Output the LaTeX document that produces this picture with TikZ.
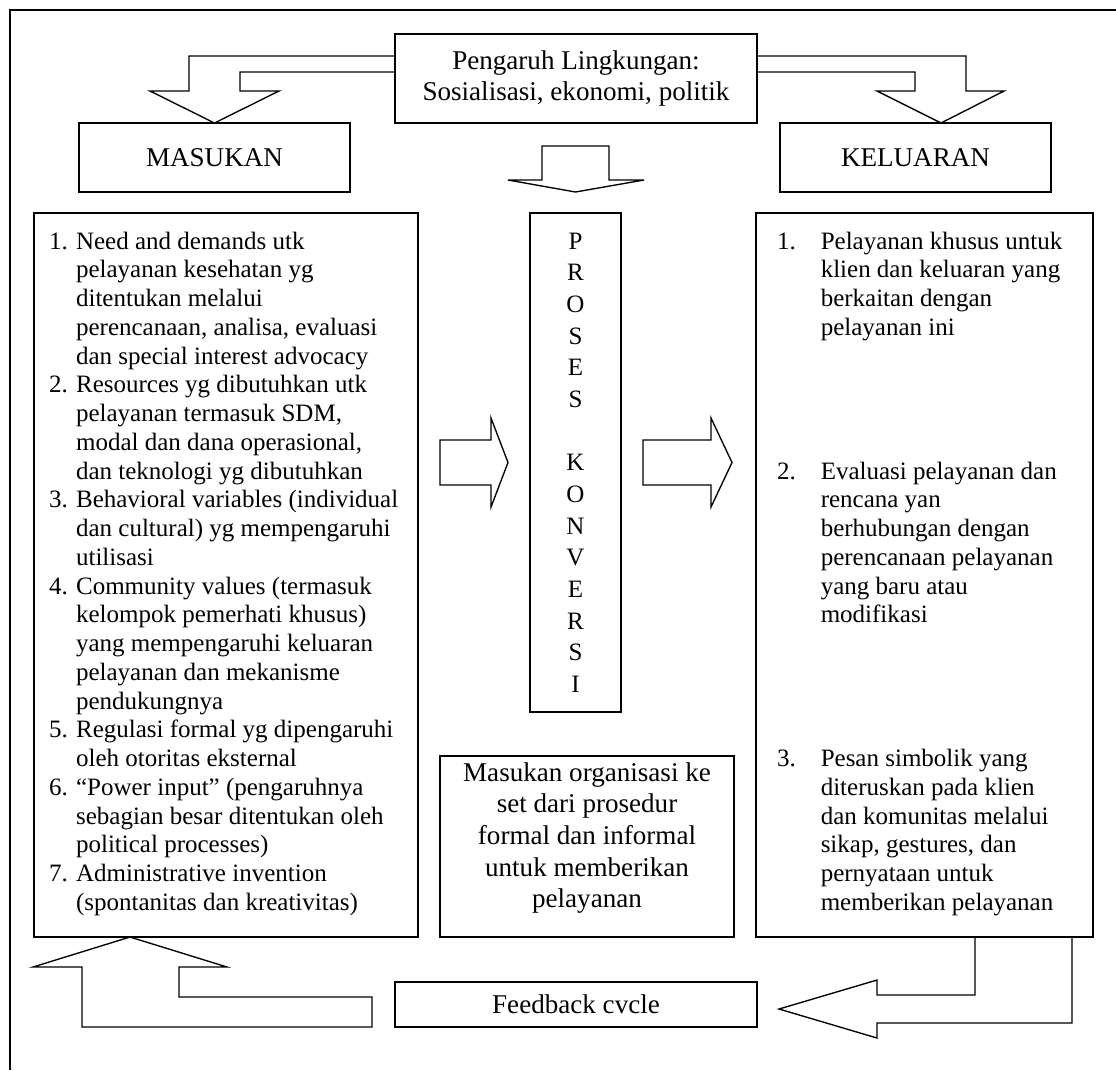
\documentclass[tikz,border=0pt]{standalone}
\usepackage{fontspec}
\setmainfont{Liberation Serif}

\newcommand{\lnum}[1]{\makebox[13pt][l]{#1}}
\newcommand{\lind}{\makebox[13pt]{}}
\newcommand{\rnum}[1]{\makebox[21pt][l]{#1}}
\newcommand{\rind}{\makebox[21pt]{}}

\begin{document}
\begin{tikzpicture}[
            x=0.48pt, y=-0.48pt,
            box/.style={rectangle, draw, line width=0.65pt, inner sep=0pt, outer sep=0pt, align=center, font=\fontsize{13}{15.2}\selectfont},
            list text/.style={inner sep=0pt, outer sep=0pt, align=left, font=\fontsize{12}{13.8}\selectfont},
            block arrow/.style={draw, line width=0.65pt, line join=miter},
            frame line/.style={draw, line width=1pt}
    ]
        \useasboundingbox (0,0) rectangle (1116,1070);

        % Frame
        \draw[frame line] (10,1070) -- (10,10) -- (1116,10);

        % Environment
        \node[box, minimum width=173.76pt, minimum height=42.72pt] (env) at (576,78.5) {Pengaruh Lingkungan:\\Sosialisasi, ekonomi, politik};

        % Input / Output headers
        \node[box, minimum width=130.08pt, minimum height=33.12pt] (masukan) at (214.5,157.5) {MASUKAN};
        \node[box, minimum width=130.08pt, minimum height=33.12pt] (keluaran) at (915.5,157.5) {KELUARAN};

        % Input list
        \node[box, minimum width=184.32pt, minimum height=347.52pt] (inbox) at (226,575) {};
        \node[list text, anchor=north west] (intext) at (49,229) {\strut\lnum{1.}Need and demands utk\\
            \lind pelayanan kesehatan yg\\
            \lind ditentukan melalui\\
            \lind perencanaan, analisa, evaluasi\\
            \lind dan special interest advocacy\\
            \lnum{2.}Resources yg dibutuhkan utk\\
            \lind pelayanan termasuk SDM,\\
            \lind modal dan dana operasional,\\
            \lind dan teknologi yg dibutuhkan\\
            \lnum{3.}Behavioral variables (individual\\
            \lind dan cultural) yg mempengaruhi\\
            \lind utilisasi\\
            \lnum{4.}Community values (termasuk\\
            \lind kelompok pemerhati khusus)\\
            \lind yang mempengaruhi keluaran\\
            \lind pelayanan dan mekanisme\\
            \lind pendukungnya\\
            \lnum{5.}Regulasi formal yg dipengaruhi\\
            \lind oleh otoritas eksternal\\
            \lnum{6.}“Power input” (pengaruhnya\\
            \lind sebagian besar ditentukan oleh\\
            \lind political processes)\\
            \lnum{7.}Administrative invention\\
            \lind (spontanitas dan kreativitas)};

        % Conversion process
        \node[box, minimum width=43.68pt, minimum height=239.52pt, font=\fontsize{12}{15.2}\selectfont] (proses) at (575.5,462.5) {P\\R\\O\\S\\E\\S\\[15.2pt]K\\O\\N\\V\\E\\R\\S\\I};
        \node[box, minimum width=141.12pt, minimum height=86.88pt] (orgbox) at (587,846.5) {};
        \node[inner sep=0pt, outer sep=0pt, anchor=north, align=center, font=\fontsize{13}{15.2}\selectfont] (orgtext) at (587,759) {\strut Masukan organisasi ke\\set dari prosedur\\formal dan informal\\untuk memberikan\\pelayanan};

        % Output list
        \node[box, minimum width=161.76pt, minimum height=347.52pt] (outbox) at (924.5,575) {};
        \node[list text, anchor=north west] (outtext) at (777,229) {\strut\rnum{1.}Pelayanan khusus untuk\\
            \rind klien dan keluaran yang\\
            \rind berkaitan dengan\\
            \rind pelayanan ini\\[55.2pt]
            \rnum{2.}Evaluasi pelayanan dan\\
            \rind rencana yan\\
            \rind berhubungan dengan\\
            \rind perencanaan pelayanan\\
            \rind yang baru atau\\
            \rind modifikasi\\[55.2pt]
            \rnum{3.}Pesan simbolik yang\\
            \rind diteruskan pada klien\\
            \rind dan komunitas melalui\\
            \rind sikap, gestures, dan\\
            \rind pernyataan untuk\\
            \rind memberikan pelayanan};

        % Feedback
        \node[box, minimum width=173.76pt, minimum height=21.6pt] (feedback) at (576,1004.5) {Feedback cvcle};

        % Block arrows
        \draw[block arrow] (env.west |- 0,56) -| (189,91) -- (150,91) -- (masukan.north) -- (279,91) -- (240,91) |- (env.west |- 0,72);
        \draw[block arrow] (env.east |- 0,56) -| (966,91) -- (1004,91) -- (keluaran.north -| 941,0) -- (877,91) -- (915,91) |- (env.east |- 0,72);
        \draw[block arrow] (542,146) -- (609,146) -- (609,180) -- (644,180) -- (575.5,192) -- (508,180) -- (542,180) -- cycle;

        \draw[block arrow] (440,440) -- (491,440) -- (491,418) -- (508,462.5) -- (491,507) -- (491,485) -- (440,485) -- cycle;
        \draw[block arrow] (643,440) -- (711,440) -- (711,418) -- (732,462.5) -- (711,507) -- (711,485) -- (643,485) -- cycle;

        \draw[block arrow] (outbox.south -| 975,0) -- (975,995) -- (877,995) -- (877,980) -- (779,1009) -- (877,1038) -- (877,1023) -- (1072,1023) -- (outbox.south -| 1072,0);
        \draw[block arrow] (372,997) -- (372,1027) -- (82,1027) -- (82,967) -- (33,967) -- (inbox.south -| 130,0) -- (227,967) -- (179,967) -- (179,997) -- cycle;

    \end{tikzpicture}
\end{document}
